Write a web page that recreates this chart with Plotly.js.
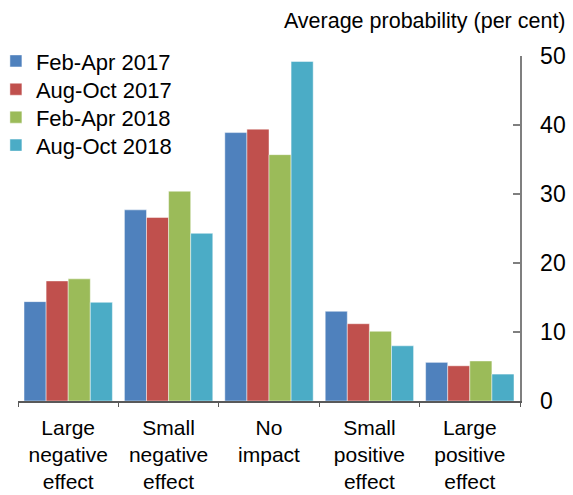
<!DOCTYPE html>
<html>
<head>
<meta charset="utf-8">
<script src="https://cdn.plot.ly/plotly-3.0.1.min.js"></script>
<style>html,body{margin:0;padding:0;background:#fff;}#chart{width:573px;height:495px;}</style>
</head>
<body>
<div id="chart"></div>
<script>
const categories = ["Large<br>negative<br>effect", "Small<br>negative<br>effect", "No<br>impact", "Small<br>positive<br>effect", "Large<br>positive<br>effect"];
const seriesNames = ["Feb-Apr 2017", "Aug-Oct 2017", "Feb-Apr 2018", "Aug-Oct 2018"];
const febApr2017 = [14.4, 27.7, 38.9, 13.0, 5.6];
const augOct2017 = [17.4, 26.6, 39.4, 11.2, 5.1];
const febApr2018 = [17.7, 30.4, 35.7, 10.1, 5.8];
const augOct2018 = [14.3, 24.3, 49.2, 8.0, 3.9];
const yTicks = [0, 10, 20, 30, 40, 50];
const colors = ["#4F81BD", "#C0504D", "#9BBB59", "#4BACC6"];

const values = [febApr2017, augOct2017, febApr2018, augOct2018];
const FONT = "Liberation Sans, Arial, sans-serif";
const legendIds = ["legend", "legend2", "legend3", "legend4"];
const legendY = [1.046, 0.964, 0.883, 0.802];

const traces = values.map((v, i) => ({
  type: "bar",
  name: seriesNames[i],
  x: categories,
  y: v,
  legend: legendIds[i],
  marker: { color: colors[i], line: { color: "rgba(255,255,255,0.45)", width: 1 } },
  hoverinfo: "skip"
}));

const layout = {
  width: 573,
  height: 495,
  margin: { l: 18, r: 53, t: 56, b: 94, pad: 0, autoexpand: false },
  paper_bgcolor: "#ffffff",
  plot_bgcolor: "#ffffff",
  font: { family: FONT, color: "#000000", size: 22 },
  barmode: "group",
  bargap: 0.12,
  bargroupgap: 0,
  showlegend: true,
  title: {
    text: "Average probability (per cent)",
    font: { family: FONT, size: 21.5, color: "#000" },
    xref: "container", yref: "container",
    x: 0.987, xanchor: "right",
    y: 0.959, yanchor: "middle"
  },
  xaxis: {
    type: "category",
    showline: true, linecolor: "#595959", linewidth: 1.5,
    ticks: "outside", tickson: "boundaries", ticklen: 4, tickcolor: "#595959", tickwidth: 1,
    ticklabelstandoff: 7,
    showgrid: false, zeroline: false,
    tickfont: { family: FONT, size: 21, color: "#000" },
    fixedrange: true
  },
  yaxis: {
    side: "right",
    range: [0, 50],
    tickvals: yTicks,
    ticktext: yTicks.map(String),
    showline: true, linecolor: "#7f7f7f", linewidth: 1.5,
    ticks: "inside", ticklen: 7, tickcolor: "#7f7f7f", tickwidth: 1.5,
    ticklabelstandoff: 14,
    showgrid: false, zeroline: false,
    tickfont: { family: FONT, size: 23, color: "#000" },
    fixedrange: true
  }
};

legendIds.forEach((id, i) => {
  layout[id] = {
    x: -0.044, y: legendY[i], xanchor: "left", yanchor: "top",
    font: { family: FONT, size: 22, color: "#000" },
    bgcolor: "rgba(0,0,0,0)",
    itemwidth: 30,
    tracegroupgap: 0
  };
});

Plotly.newPlot("chart", traces, layout, { displayModeBar: false, staticPlot: true });
</script>
</body>
</html>
